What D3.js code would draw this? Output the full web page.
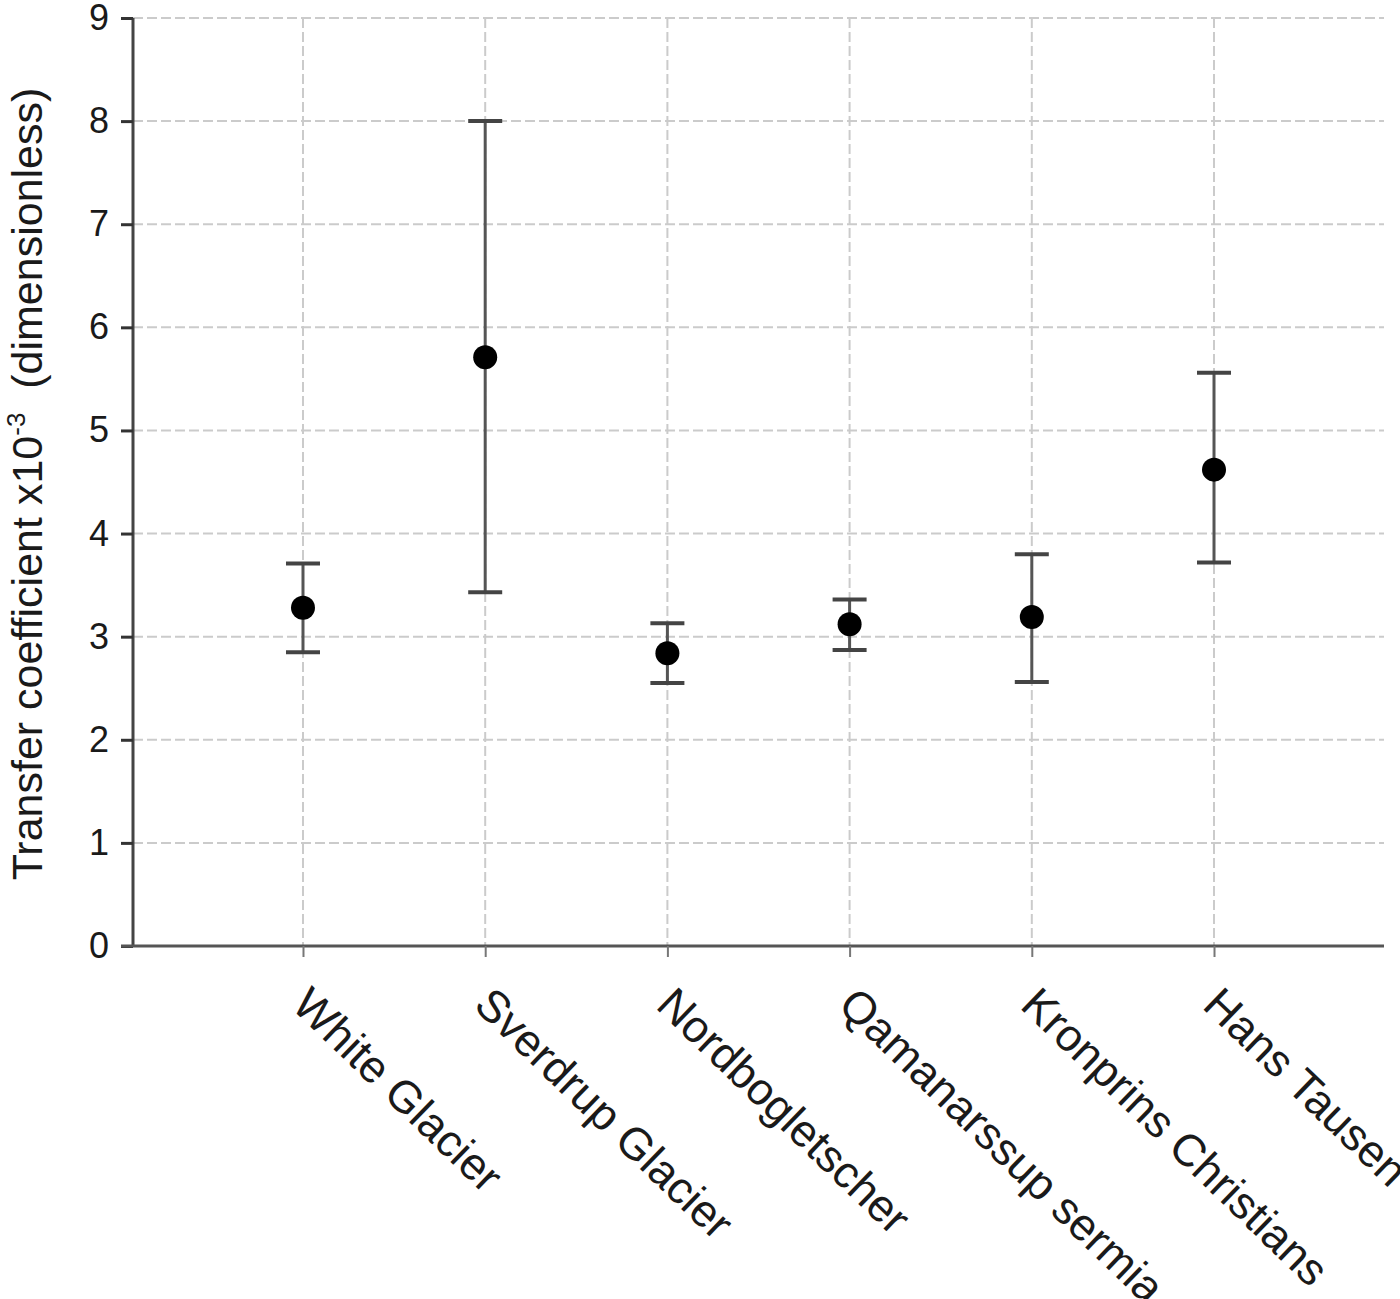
<!DOCTYPE html>
<html>
<head>
<meta charset="utf-8">
<script src="https://cdn.jsdelivr.net/npm/d3@7"></script>
<style>
  body { margin: 0; background: #fff; }
  text { font-family: "Liberation Sans", Arial, sans-serif; fill: #1a1a1a; }
</style>
</head>
<body>
<div id="chart"></div>
<script>
var glaciers = ["White Glacier", "Sverdrup Glacier", "Nordbogletscher", "Qamanarssup sermia", "Kronprins Christians", "Hans Tausen"];
var meanValues = [3.28, 5.71, 2.84, 3.12, 3.19, 4.62];
var lowValues = [2.85, 3.43, 2.55, 2.87, 2.56, 3.72];
var highValues = [3.71, 8.0, 3.13, 3.36, 3.80, 5.56];
var yTicks = [0, 1, 2, 3, 4, 5, 6, 7, 8, 9];

var svgWidth = 1400;
var svgHeight = 1299;

var margin = {
    top: 18,
    right: 16,
    bottom: 353,
    left: 133
};

var width = svgWidth - margin.left - margin.right;
var height = svgHeight - margin.top - margin.bottom;

var svg = d3
    .select("#chart")
    .append("svg")
    .attr("width", svgWidth)
    .attr("height", svgHeight);

var chartGroup = svg.append("g")
    .attr("transform", `translate(${margin.left}, ${margin.top})`);

var data = glaciers.map(function(name, i) {
    return { name: name, mean: meanValues[i], low: lowValues[i], high: highValues[i] };
});

var xScale = d3.scalePoint()
    .domain(glaciers)
    .range([0, width])
    .padding(0.933);

var yScale = d3.scaleLinear()
    .domain([0, 9])
    .range([height, 0]);

// grid lines
chartGroup.selectAll(".hgrid")
    .data(yTicks.filter(d => d > 0))
    .enter()
    .append("line")
    .attr("x1", 0)
    .attr("x2", width)
    .attr("y1", d => yScale(d))
    .attr("y2", d => yScale(d))
    .attr("stroke", "#cbcbcb")
    .attr("stroke-width", 2)
    .attr("stroke-dasharray", "10,4");

chartGroup.selectAll(".vgrid")
    .data(glaciers)
    .enter()
    .append("line")
    .attr("x1", d => xScale(d))
    .attr("x2", d => xScale(d))
    .attr("y1", 0)
    .attr("y2", height)
    .attr("stroke", "#cbcbcb")
    .attr("stroke-width", 2)
    .attr("stroke-dasharray", "10,4");

// axes
var leftAxis = d3.axisLeft(yScale).tickValues(yTicks).tickSize(12).tickPadding(12);
var bottomAxis = d3.axisBottom(xScale).tickSize(11).tickFormat("");

var yAxisG = chartGroup.append("g").call(leftAxis);
yAxisG.select(".domain").attr("stroke", "#444").attr("stroke-width", 3).attr("d", `M0,0V${height}`);
yAxisG.selectAll(".tick line").attr("stroke", "#333").attr("stroke-width", 3);
yAxisG.selectAll(".tick text")
    .style("font-size", "36px")
    .style("font-family", "Liberation Sans, Arial, sans-serif")
    .attr("fill", "#1a1a1a");

var xAxisG = chartGroup.append("g")
    .attr("transform", `translate(0, ${height})`)
    .call(bottomAxis);
xAxisG.select(".domain").attr("stroke", "#555").attr("stroke-width", 3).attr("d", `M-12,0H${width}`);
xAxisG.selectAll(".tick line").attr("stroke", "#777").attr("stroke-width", 2);

// rotated category labels
chartGroup.selectAll(".catLabel")
    .data(glaciers)
    .enter()
    .append("text")
    .attr("class", "catLabel")
    .attr("transform", d => `translate(${xScale(d) + 10}, ${height}) rotate(44)`)
    .attr("x", 26)
    .attr("y", 60)
    .style("font-size", "45px")
    .text(d => d);

// error bars
var capHalf = 17;
var bars = chartGroup.selectAll(".errbar")
    .data(data)
    .enter()
    .append("g");

bars.append("line")
    .attr("x1", d => xScale(d.name))
    .attr("x2", d => xScale(d.name))
    .attr("y1", d => yScale(d.low))
    .attr("y2", d => yScale(d.high))
    .attr("stroke", "#555")
    .attr("stroke-width", 3);

bars.append("line")
    .attr("x1", d => xScale(d.name) - capHalf)
    .attr("x2", d => xScale(d.name) + capHalf)
    .attr("y1", d => yScale(d.high))
    .attr("y2", d => yScale(d.high))
    .attr("stroke", "#444")
    .attr("stroke-width", 4);

bars.append("line")
    .attr("x1", d => xScale(d.name) - capHalf)
    .attr("x2", d => xScale(d.name) + capHalf)
    .attr("y1", d => yScale(d.low))
    .attr("y2", d => yScale(d.low))
    .attr("stroke", "#444")
    .attr("stroke-width", 4);

bars.append("circle")
    .attr("cx", d => xScale(d.name))
    .attr("cy", d => yScale(d.mean))
    .attr("r", 12)
    .attr("fill", "#000");

// y axis title
var yTitle = svg.append("text")
    .attr("transform", `translate(42, ${margin.top + height / 2 + 2}) rotate(-90)`)
    .attr("text-anchor", "middle")
    .style("font-size", "43px");
yTitle.append("tspan").text("Transfer coefficient x10");
yTitle.append("tspan").attr("dy", -17).style("font-size", "26px").text("-3");
yTitle.append("tspan").attr("dy", 17).text("\u00a0 (dimensionless)");
</script>
</body>
</html>
